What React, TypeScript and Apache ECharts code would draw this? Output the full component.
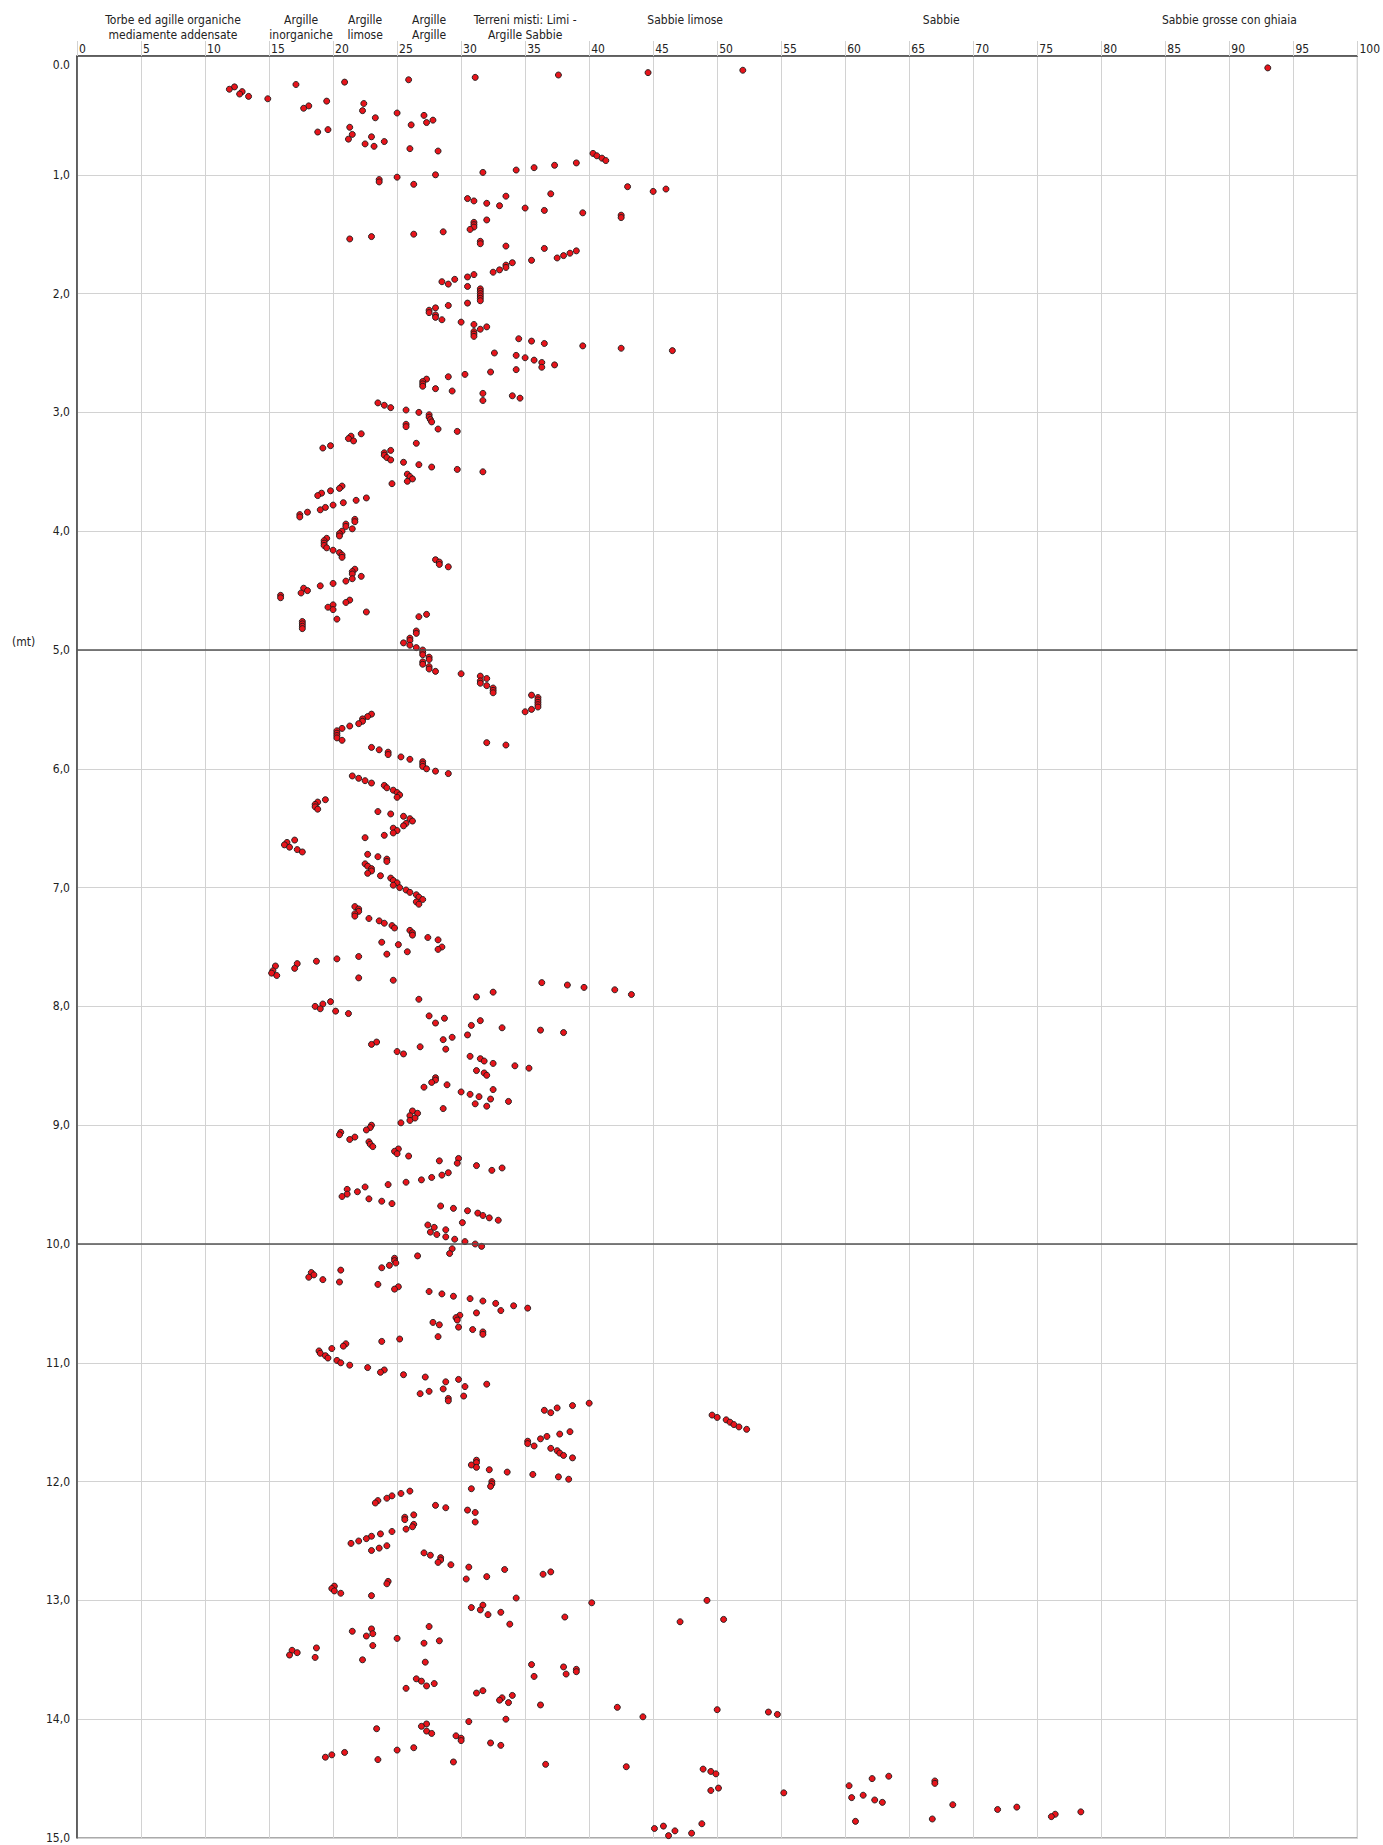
import React, { useEffect, useRef } from "react";
import * as echarts from "echarts";

const FONT = "'DejaVu Sans Condensed', 'DejaVu Sans', sans-serif";

// Soil-class header bands: centre of each band on the 0-100 scale
const zoneLabels = [
  "Torbe ed agille organiche\nmediamente addensate",
  "Argille\ninorganiche",
  "Argille\nlimose",
  "Argille\nArgille",
  "Terreni misti: Limi -\nArgille Sabbie",
  "Sabbie limose\n ",
  "Sabbie\n ",
  "Sabbie grosse con ghiaia\n ",
];
const zoneCenters = [7.5, 17.5, 22.5, 27.5, 35, 47.5, 67.5, 90];

// Thick horizontal separators (m)
const layerBoundaries = [5, 10];

// [index value, depth (m)]
const profile0to5: [number, number][] = [
  [93.0, 0.1], [52.0, 0.12], [44.6, 0.14], [37.6, 0.16], [31.1, 0.18], [25.9, 0.2], [20.9, 0.22], [17.1, 0.24],
  [12.3, 0.26], [11.9, 0.28], [12.9, 0.3], [12.7, 0.32], [13.4, 0.34], [14.9, 0.36], [19.5, 0.38], [22.4, 0.4],
  [18.1, 0.42], [17.7, 0.44], [22.3, 0.46], [25.0, 0.48], [27.1, 0.5], [23.3, 0.52], [27.8, 0.54], [27.3, 0.56],
  [26.1, 0.58], [21.3, 0.6], [19.6, 0.62], [18.8, 0.64], [21.5, 0.66], [23.0, 0.68], [21.2, 0.7], [24.0, 0.72],
  [22.5, 0.74], [23.2, 0.76], [26.0, 0.78], [28.2, 0.8], [40.3, 0.82], [40.6, 0.84], [41.0, 0.86], [41.3, 0.88],
  [39.0, 0.9], [37.3, 0.92], [35.7, 0.94], [34.3, 0.96], [31.7, 0.98], [28.0, 1.0], [25.0, 1.02], [23.6, 1.04],
  [23.6, 1.06], [26.3, 1.08], [43.0, 1.1], [46.0, 1.12], [45.0, 1.14], [37.0, 1.16], [33.5, 1.18], [30.5, 1.2],
  [31.0, 1.22], [32.0, 1.24], [33.0, 1.26], [35.0, 1.28], [36.5, 1.3], [39.5, 1.32], [42.5, 1.34], [42.5, 1.36],
  [32.0, 1.38], [31.0, 1.4], [31.0, 1.42], [31.0, 1.44], [30.7, 1.46], [28.6, 1.48], [26.3, 1.5], [23.0, 1.52],
  [21.3, 1.54], [31.5, 1.56], [31.5, 1.58], [33.5, 1.6], [36.5, 1.62], [39.0, 1.64], [38.5, 1.66], [38.0, 1.68],
  [37.5, 1.7], [35.5, 1.72], [34.0, 1.74], [33.5, 1.76], [33.5, 1.78], [33.0, 1.8], [32.5, 1.82], [31.0, 1.84],
  [30.5, 1.86], [29.5, 1.88], [28.5, 1.9], [29.0, 1.92], [30.5, 1.94], [31.5, 1.96], [31.5, 1.98], [31.5, 2.0],
  [31.5, 2.02], [31.5, 2.04], [31.5, 2.06], [30.5, 2.08], [29.0, 2.1], [28.0, 2.12], [27.5, 2.14], [27.5, 2.16],
  [28.0, 2.18], [28.0, 2.2], [28.5, 2.22], [30.0, 2.24], [31.0, 2.26], [32.0, 2.28], [31.5, 2.3], [31.0, 2.32],
  [31.0, 2.34], [31.0, 2.36], [34.5, 2.38], [35.5, 2.4], [36.5, 2.42], [39.5, 2.44], [42.5, 2.46], [46.5, 2.48],
  [32.6, 2.5], [34.3, 2.52], [35.0, 2.54], [35.7, 2.56], [36.3, 2.58], [37.3, 2.6], [36.3, 2.62], [34.3, 2.64],
  [32.3, 2.66], [30.3, 2.68], [29.0, 2.7], [27.3, 2.72], [27.0, 2.74], [27.0, 2.76], [27.0, 2.78], [28.0, 2.8],
  [29.3, 2.82], [31.7, 2.84], [34.0, 2.86], [34.6, 2.88], [31.7, 2.9], [23.5, 2.92], [24.0, 2.94], [24.5, 2.96],
  [25.7, 2.98], [26.7, 3.0], [27.5, 3.02], [27.5, 3.04], [27.6, 3.06], [27.7, 3.08], [25.7, 3.1], [25.7, 3.12],
  [28.2, 3.14], [29.7, 3.16], [22.2, 3.18], [21.4, 3.2], [21.2, 3.22], [21.6, 3.24], [26.5, 3.26], [19.8, 3.28],
  [19.2, 3.3], [24.5, 3.32], [24.0, 3.34], [24.0, 3.36], [24.2, 3.38], [24.5, 3.4], [25.5, 3.42], [26.7, 3.44],
  [27.7, 3.46], [29.7, 3.48], [31.7, 3.5], [25.8, 3.52], [26.0, 3.54], [26.2, 3.56], [25.8, 3.58], [24.6, 3.6],
  [20.7, 3.62], [20.5, 3.64], [19.8, 3.66], [19.1, 3.68], [18.8, 3.7], [22.6, 3.72], [21.8, 3.74], [20.8, 3.76],
  [20.0, 3.78], [19.4, 3.8], [19.0, 3.82], [18.0, 3.84], [17.4, 3.86], [17.4, 3.88], [21.7, 3.9], [21.7, 3.92],
  [21.0, 3.94], [21.0, 3.96], [21.5, 3.98], [20.7, 4.0], [20.5, 4.02], [20.5, 4.04], [19.5, 4.06], [19.3, 4.08],
  [19.3, 4.1], [19.3, 4.12], [19.5, 4.14], [20.0, 4.16], [20.5, 4.18], [20.7, 4.2], [20.7, 4.22], [28.0, 4.24],
  [28.3, 4.26], [28.3, 4.28], [29.0, 4.3], [21.7, 4.32], [21.5, 4.34], [21.5, 4.36], [22.2, 4.38], [21.5, 4.4],
  [21.0, 4.42], [20.0, 4.44], [19.0, 4.46], [17.7, 4.48], [18.0, 4.5], [17.5, 4.52], [15.9, 4.54], [15.9, 4.56],
  [21.3, 4.58], [21.0, 4.6], [20.0, 4.62], [19.6, 4.64], [20.0, 4.66], [22.6, 4.68], [27.3, 4.7], [26.7, 4.72],
  [20.3, 4.74], [17.6, 4.76], [17.6, 4.78], [17.6, 4.8], [17.6, 4.82], [26.5, 4.84], [26.5, 4.86], [26.0, 4.9],
  [26.0, 4.92], [25.5, 4.94], [26.0, 4.96], [26.5, 4.98], [27.0, 5.0],
];

const profile5to10: [number, number][] = [
  [27.0, 5.02], [27.0, 5.04], [27.5, 5.06], [27.5, 5.08], [27.0, 5.1], [27.0, 5.12], [27.5, 5.14], [27.5, 5.16],
  [28.0, 5.18], [30.0, 5.2], [31.5, 5.22], [32.0, 5.24], [31.5, 5.26], [31.5, 5.28], [32.0, 5.3], [32.5, 5.32],
  [32.5, 5.34], [32.5, 5.36], [35.5, 5.38], [36.0, 5.4], [36.0, 5.42], [36.0, 5.44], [36.0, 5.46], [36.0, 5.48],
  [35.5, 5.5], [35.0, 5.52], [23.0, 5.54], [22.7, 5.56], [22.3, 5.58], [22.3, 5.6], [22.0, 5.62], [21.3, 5.64],
  [20.7, 5.66], [20.3, 5.68], [20.3, 5.7], [20.3, 5.72], [20.3, 5.74], [20.7, 5.76], [32.0, 5.78], [33.5, 5.8],
  [23.0, 5.82], [23.6, 5.84], [24.3, 5.86], [24.3, 5.88], [25.3, 5.9], [26.0, 5.92], [27.0, 5.94], [27.0, 5.96],
  [27.0, 5.98], [27.3, 6.0], [28.0, 6.02], [29.0, 6.04], [21.5, 6.06], [22.0, 6.08], [22.5, 6.1], [23.0, 6.12],
  [24.0, 6.14], [24.2, 6.16], [24.7, 6.18], [25.0, 6.2], [25.2, 6.22], [25.0, 6.24], [19.4, 6.26], [18.8, 6.28],
  [18.6, 6.3], [18.6, 6.32], [18.8, 6.34], [23.5, 6.36], [24.5, 6.38], [25.5, 6.4], [26.0, 6.42], [26.2, 6.44],
  [25.7, 6.46], [25.5, 6.48], [24.7, 6.5], [25.0, 6.52], [24.7, 6.54], [24.0, 6.56], [22.5, 6.58], [17.0, 6.6],
  [16.4, 6.62], [16.2, 6.64], [16.6, 6.66], [17.2, 6.68], [17.6, 6.7], [22.7, 6.72], [23.5, 6.74], [24.2, 6.76],
  [24.2, 6.78], [22.5, 6.8], [22.7, 6.82], [23.0, 6.84], [23.0, 6.86], [22.7, 6.88], [23.7, 6.9], [24.5, 6.92],
  [24.7, 6.94], [25.0, 6.96], [24.7, 6.98], [25.2, 7.0], [25.7, 7.02], [26.0, 7.04], [26.5, 7.06], [26.7, 7.08],
  [27.0, 7.1], [26.5, 7.12], [26.7, 7.14], [21.7, 7.16], [22.0, 7.18], [22.0, 7.2], [21.7, 7.22], [21.7, 7.24],
  [22.8, 7.26], [23.6, 7.28], [24.0, 7.3], [24.6, 7.32], [24.8, 7.34], [26.0, 7.36], [26.2, 7.38], [26.2, 7.4],
  [27.4, 7.42], [28.2, 7.44], [23.8, 7.46], [25.1, 7.48], [28.5, 7.5], [28.2, 7.52], [25.8, 7.54], [24.2, 7.56],
  [22.0, 7.58], [20.3, 7.6], [18.7, 7.62], [17.2, 7.64], [15.5, 7.66], [17.0, 7.68], [15.3, 7.7], [15.2, 7.72],
  [15.6, 7.74], [22.0, 7.76], [24.7, 7.78], [36.3, 7.8], [38.3, 7.82], [39.6, 7.84], [42.0, 7.86], [32.5, 7.88],
  [43.3, 7.9], [31.2, 7.92], [26.7, 7.94], [19.8, 7.96], [19.2, 7.98], [18.6, 8.0], [19.0, 8.02], [20.2, 8.04],
  [21.2, 8.06], [27.5, 8.08], [28.7, 8.1], [31.5, 8.12], [28.0, 8.14], [30.8, 8.16], [33.2, 8.18], [36.2, 8.2],
  [38.0, 8.22], [30.5, 8.24], [29.3, 8.26], [28.6, 8.28], [23.4, 8.3], [23.0, 8.32], [26.8, 8.34], [28.8, 8.36],
  [25.0, 8.38], [25.5, 8.4], [30.7, 8.42], [31.5, 8.44], [31.8, 8.46], [32.5, 8.48], [34.2, 8.5], [35.3, 8.52],
  [31.2, 8.54], [31.8, 8.56], [32.0, 8.58], [28.0, 8.6], [28.0, 8.62], [27.7, 8.64], [28.9, 8.66], [27.1, 8.68],
  [32.5, 8.7], [30.0, 8.72], [30.7, 8.74], [31.4, 8.76], [32.3, 8.78], [33.7, 8.8], [31.1, 8.82], [32.0, 8.84],
  [28.6, 8.86], [26.2, 8.88], [26.6, 8.9], [26.0, 8.92], [26.4, 8.94], [26.0, 8.96], [25.3, 8.98], [23.0, 9.0],
  [22.9, 9.02], [22.6, 9.04], [20.6, 9.06], [20.5, 9.08], [21.7, 9.1], [21.3, 9.12], [22.8, 9.14], [22.9, 9.16],
  [23.1, 9.18], [25.1, 9.2], [24.8, 9.22], [25.0, 9.24], [25.9, 9.26], [29.8, 9.28], [28.3, 9.3], [29.7, 9.32],
  [31.2, 9.34], [33.2, 9.36], [32.4, 9.38], [29.0, 9.4], [28.5, 9.42], [27.7, 9.44], [26.9, 9.46], [25.7, 9.48],
  [24.3, 9.5], [22.5, 9.52], [21.1, 9.54], [21.9, 9.56], [21.1, 9.58], [20.7, 9.6], [22.8, 9.62], [23.8, 9.64],
  [24.6, 9.66], [28.4, 9.68], [29.4, 9.7], [30.5, 9.72], [31.3, 9.74], [31.7, 9.76], [32.2, 9.78], [32.9, 9.8],
  [30.1, 9.82], [27.4, 9.84], [27.9, 9.86], [28.8, 9.88], [27.6, 9.9], [28.1, 9.92], [28.8, 9.94], [29.5, 9.96],
  [30.3, 9.98], [31.1, 10.0],
];

const profile10to15: [number, number][] = [
  [31.6, 10.02], [29.3, 10.04], [29.1, 10.08], [26.6, 10.1], [24.8, 10.12], [24.8, 10.14], [24.9, 10.16], [24.4, 10.18],
  [23.8, 10.2], [20.6, 10.22], [18.3, 10.24], [18.5, 10.26], [18.1, 10.28], [19.2, 10.3], [20.5, 10.32], [23.5, 10.34],
  [25.1, 10.36], [24.8, 10.38], [27.5, 10.4], [28.5, 10.42], [29.4, 10.44], [30.7, 10.46], [31.7, 10.48], [32.7, 10.5],
  [34.1, 10.52], [35.2, 10.54], [33.1, 10.56], [31.2, 10.58], [29.9, 10.6], [29.6, 10.62], [29.7, 10.64], [27.8, 10.66],
  [28.3, 10.68], [29.8, 10.7], [30.9, 10.72], [31.7, 10.74], [31.7, 10.76], [28.2, 10.78], [25.2, 10.8], [23.8, 10.82],
  [21.0, 10.84], [20.8, 10.86], [19.9, 10.88], [18.9, 10.9], [19.0, 10.92], [19.4, 10.94], [19.6, 10.96], [20.3, 10.98],
  [20.6, 11.0], [21.3, 11.02], [22.7, 11.04], [24.0, 11.06], [23.7, 11.08], [25.5, 11.1], [27.2, 11.12], [29.8, 11.14],
  [28.8, 11.16], [32.0, 11.18], [30.3, 11.2], [28.6, 11.22], [27.5, 11.24], [26.8, 11.26], [30.2, 11.28], [29.0, 11.3],
  [29.0, 11.32], [40.0, 11.34], [38.7, 11.36], [37.5, 11.38], [36.5, 11.4], [37.0, 11.42], [49.6, 11.44], [50.0, 11.46],
  [50.7, 11.48], [51.0, 11.5], [51.3, 11.52], [51.7, 11.54], [52.3, 11.56], [38.5, 11.58], [37.7, 11.6], [36.7, 11.62],
  [36.2, 11.64], [35.2, 11.66], [35.2, 11.68], [35.7, 11.7], [37.0, 11.72], [37.5, 11.74], [37.7, 11.76], [38.0, 11.78],
  [38.7, 11.8], [31.2, 11.82], [31.2, 11.84], [30.8, 11.86], [31.2, 11.88], [32.2, 11.9], [33.6, 11.92], [35.6, 11.94],
  [37.6, 11.96], [38.4, 11.98], [32.4, 12.0], [32.4, 12.02], [32.3, 12.04], [30.8, 12.06], [26.0, 12.08], [25.3, 12.1],
  [24.6, 12.12], [24.2, 12.14], [23.5, 12.16], [23.3, 12.18], [28.0, 12.2], [28.8, 12.22], [30.5, 12.24], [31.1, 12.26],
  [26.3, 12.28], [25.6, 12.3], [25.6, 12.32], [31.1, 12.34], [26.3, 12.36], [26.2, 12.38], [25.7, 12.4], [24.6, 12.42],
  [23.7, 12.44], [23.0, 12.46], [22.6, 12.48], [22.0, 12.5], [21.4, 12.52], [24.2, 12.54], [23.6, 12.56], [23.0, 12.58],
  [27.1, 12.6], [27.6, 12.62], [28.4, 12.64], [28.4, 12.66], [28.2, 12.68], [29.2, 12.7], [30.6, 12.72], [33.4, 12.74],
  [37.0, 12.76], [36.4, 12.78], [32.0, 12.8], [30.4, 12.82], [24.3, 12.84], [24.2, 12.86], [20.1, 12.88], [19.9, 12.9],
  [20.1, 12.92], [20.6, 12.94], [23.0, 12.96], [34.3, 12.98], [49.2, 13.0], [40.2, 13.02], [31.7, 13.04], [30.8, 13.06],
  [31.5, 13.08], [33.1, 13.1], [32.1, 13.12], [38.1, 13.14], [50.5, 13.16], [47.1, 13.18], [33.8, 13.2], [27.5, 13.22],
  [23.0, 13.24], [21.5, 13.26], [23.1, 13.28], [22.6, 13.3], [25.0, 13.32], [28.3, 13.34], [27.1, 13.36], [23.1, 13.38],
  [18.7, 13.4], [16.8, 13.42], [17.2, 13.44], [16.6, 13.46], [18.6, 13.48], [22.3, 13.5], [27.2, 13.52], [35.5, 13.54],
  [38.0, 13.56], [39.0, 13.58], [39.0, 13.6], [38.2, 13.62], [35.7, 13.64], [26.5, 13.66], [26.9, 13.68], [27.9, 13.7],
  [27.3, 13.72], [25.7, 13.74], [31.7, 13.76], [31.2, 13.78], [34.0, 13.8], [33.2, 13.82], [33.0, 13.84], [33.7, 13.86],
  [36.2, 13.88], [42.2, 13.9], [50.0, 13.92], [54.0, 13.94], [54.7, 13.96], [44.2, 13.98], [33.5, 14.0], [30.6, 14.02],
  [27.3, 14.04], [26.9, 14.06], [23.4, 14.08], [27.3, 14.1], [27.7, 14.12], [29.6, 14.14], [30.0, 14.16], [30.0, 14.18],
  [32.3, 14.2], [33.1, 14.22], [26.3, 14.24], [25.0, 14.26], [20.9, 14.28], [19.9, 14.3], [19.4, 14.32], [23.5, 14.34],
  [29.4, 14.36], [36.6, 14.38], [42.9, 14.4], [48.9, 14.42], [49.5, 14.44], [49.9, 14.46], [63.4, 14.48], [62.1, 14.5],
  [67.0, 14.52], [67.0, 14.54], [60.3, 14.56], [50.1, 14.58], [49.5, 14.6], [55.2, 14.62], [61.4, 14.64], [60.5, 14.66],
  [62.3, 14.68], [62.9, 14.7], [68.4, 14.72], [73.4, 14.74], [71.9, 14.76], [78.4, 14.78], [76.4, 14.8], [76.1, 14.82],
  [66.8, 14.84], [60.8, 14.86], [48.8, 14.88], [45.8, 14.9], [45.1, 14.92], [46.7, 14.94], [48.0, 14.96], [46.2, 14.98],
];

const profile = [...profile0to5, ...profile5to10, ...profile10to15];

export default function App() {
  const ref = useRef<HTMLDivElement>(null);

  useEffect(() => {
    document.body.style.margin = "0";
    if (!ref.current) return;
    const chart = echarts.init(ref.current, undefined, { renderer: "svg" });
    const labelColor = "#222";
    chart.setOption({
      animation: false,
      backgroundColor: "#ffffff",
      textStyle: { fontFamily: FONT },
      grid: {
        left: 77,
        top: 56,
        width: 1281,
        height: 1782,
        show: true,
        borderColor: "#555",
        borderWidth: 1,
        backgroundColor: "transparent",
      },
      xAxis: [
        {
          type: "value",
          position: "top",
          min: 0,
          max: 100,
          interval: 5,
          axisLine: { show: true, onZero: false, lineStyle: { color: "#444", width: 1.5 } },
          axisTick: { show: true, length: 15, lineStyle: { color: "#d2d2d2" } },
          axisLabel: {
            align: "left",
            margin: 1,
            padding: [0, 0, 0, 2],
            fontSize: 12,
            color: labelColor,
            fontFamily: FONT,
          },
          splitLine: { show: true, lineStyle: { color: "#d2d2d2", width: 1 } },
        },
        {
          type: "value",
          position: "top",
          min: 0,
          max: 100,
          axisLine: { show: false, onZero: false },
          axisTick: { show: false },
          splitLine: { show: false },
          axisLabel: {
            customValues: zoneCenters,
            formatter: (v: number) => {
              const i = zoneCenters.findIndex((c) => Math.abs(c - v) < 1e-6);
              return i >= 0 ? zoneLabels[i] : "";
            },
            margin: 14,
            lineHeight: 15,
            align: "center",
            fontSize: 12,
            color: labelColor,
            fontFamily: FONT,
          },
        },
      ],
      yAxis: {
        type: "value",
        inverse: true,
        min: 0,
        max: 15,
        interval: 1,
        axisLine: { show: true, onZero: false, lineStyle: { color: "#444", width: 1.5 } },
        axisTick: { show: false },
        axisLabel: {
          margin: 7,
          fontSize: 12,
          color: labelColor,
          fontFamily: FONT,
          formatter: (v: number) => (v === 0 ? "{z|0.0}" : v.toFixed(1).replace(".", ",")),
          rich: {
            z: { fontSize: 12, color: labelColor, fontFamily: FONT, padding: [18, 0, 0, 0] },
          },
        },
        splitLine: { show: true, lineStyle: { color: "#d2d2d2", width: 1 } },
      },
      graphic: [
        {
          type: "text",
          left: 12,
          top: 636,
          style: { text: "(mt)", fontSize: 12, fill: labelColor, fontFamily: FONT },
        },
      ],
      series: [
        {
          type: "scatter",
          xAxisIndex: 0,
          yAxisIndex: 0,
          data: profile,
          symbol: "circle",
          symbolSize: 6,
          itemStyle: { color: "#e8141b", borderColor: "#1a1a1a", borderWidth: 0.9, opacity: 1 },
          markLine: {
            silent: true,
            symbol: ["none", "none"],
            label: { show: false },
            lineStyle: { color: "#555", type: "solid", width: 1.5 },
            data: layerBoundaries.map((d) => ({ yAxis: d })),
          },
        },
      ],
    });
    return () => chart.dispose();
  }, []);

  return <div ref={ref} style={{ width: 1383, height: 1845 }} />;
}
